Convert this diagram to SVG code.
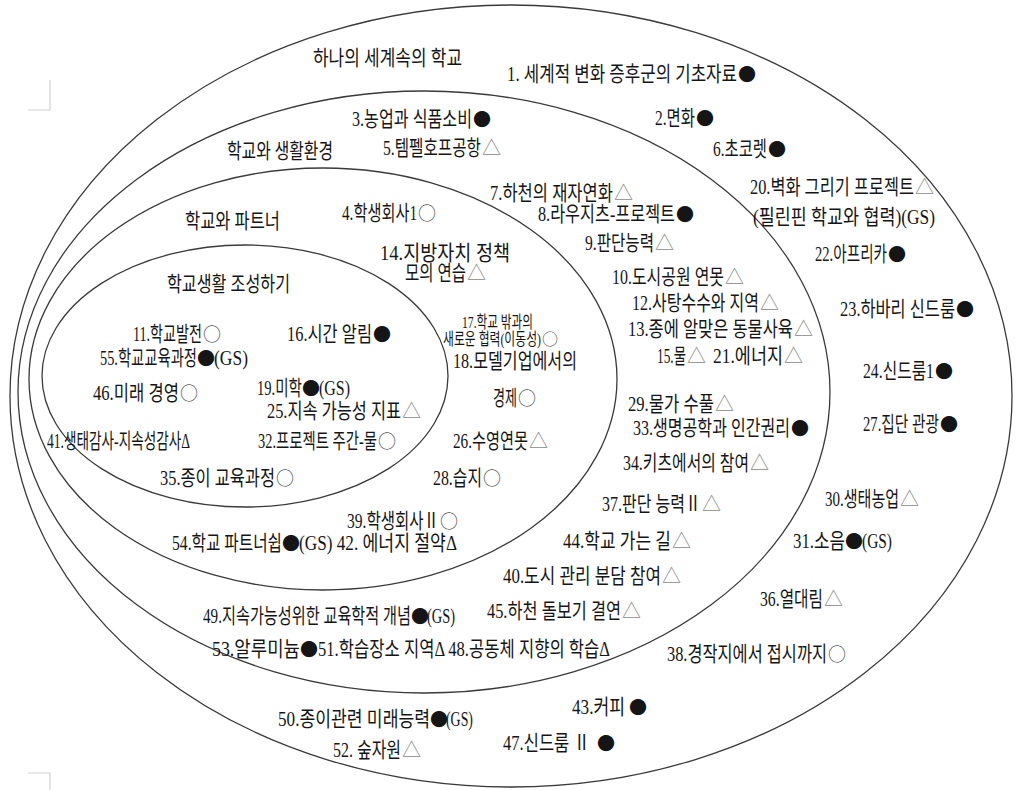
<svg xmlns="http://www.w3.org/2000/svg" width="1017" height="790" viewBox="0 0 1017 790">
<style>
.ring{fill:none;stroke:#3a3a3a;stroke-width:1.3}
.mark{fill:none;stroke:#d0d0d0;stroke-width:1.2}
text{font-family:"Liberation Serif","Noto Sans CJK KR",serif;font-size:21px;fill:#151515}
.s{font-size:17px}
text.st{fill:#8a8a8a;font-family:"Noto Sans CJK KR",sans-serif;font-size:19px}
text.sb{font-family:"Noto Sans CJK KR",sans-serif;font-size:18px}
text.so{font-family:"Noto Sans CJK KR",sans-serif;font-size:18px;fill:#555}
text.so.small{font-size:16px}
</style>
<rect width="1017" height="790" fill="#fff"/>
<g id="corner-marks">
<path class="mark" d="M50 80 V110 H28"/>
<path class="mark" d="M28 773 H50 V790"/>
</g>
<g id="regions">
<g id="ring-world"><ellipse class="ring" cx="511" cy="396" rx="501" ry="391"/></g>
<g id="ring-environment"><ellipse class="ring" cx="424" cy="392" rx="406" ry="301"/></g>
<g id="ring-partner"><ellipse class="ring" cx="323" cy="379" rx="294" ry="211"/></g>
<g id="ring-schoollife"><ellipse class="ring" cx="245" cy="376" rx="203" ry="131"/></g>
</g>
<g id="labels">
<g id="title-world"><text x="313" y="65" textLength="149" lengthAdjust="spacingAndGlyphs">하나의 세계속의 학교</text></g>
<g id="title-environment"><text x="227" y="158" textLength="106" lengthAdjust="spacingAndGlyphs">학교와 생활환경</text></g>
<g id="title-partner"><text x="185" y="228" textLength="95" lengthAdjust="spacingAndGlyphs">학교와 파트너</text></g>
<g id="title-schoollife"><text x="167" y="291" textLength="123" lengthAdjust="spacingAndGlyphs">학교생활 조성하기</text></g>
</g>
<g id="items">
<g id="i1"><text x="507" y="81" textLength="230" lengthAdjust="spacingAndGlyphs">1. 세계적 변화 증후군의 기초자료</text><text class="sb" x="738" y="81">●</text></g>
<g id="i3"><text x="352" y="126" textLength="120" lengthAdjust="spacingAndGlyphs">3.농업과 식품소비</text><text class="sb" x="473" y="126">●</text></g>
<g id="i5"><text x="383" y="155" textLength="98" lengthAdjust="spacingAndGlyphs">5.템펠호프공항</text><text class="st" x="482" y="155">△</text></g>
<g id="i2"><text x="655" y="125" textLength="40" lengthAdjust="spacingAndGlyphs">2.면화</text><text class="sb" x="696" y="125">●</text></g>
<g id="i6"><text x="713" y="156" textLength="54" lengthAdjust="spacingAndGlyphs">6.초코렛</text><text class="sb" x="768" y="156">●</text></g>
<g id="i7"><text x="490" y="200" textLength="123" lengthAdjust="spacingAndGlyphs">7.하천의 재자연화</text><text class="st" x="614" y="200">△</text></g>
<g id="i20"><text x="750" y="194" textLength="164" lengthAdjust="spacingAndGlyphs">20.벽화 그리기 프로젝트</text><text class="st" x="915" y="194">△</text>
<text x="753" y="224" textLength="182" lengthAdjust="spacingAndGlyphs">(필린핀 학교와 협력)(GS)</text></g>
<g id="i8"><text x="538" y="221" textLength="137" lengthAdjust="spacingAndGlyphs">8.라우지츠-프로젝트</text><text class="sb" x="676" y="221">●</text></g>
<g id="i4"><text x="342" y="220" textLength="75" lengthAdjust="spacingAndGlyphs">4.학생회사1</text><text class="so" x="418" y="220">○</text></g>
<g id="i9"><text x="585" y="250" textLength="69" lengthAdjust="spacingAndGlyphs">9.판단능력</text><text class="st" x="655" y="250">△</text></g>
<g id="i14"><text x="380" y="260" textLength="130" lengthAdjust="spacingAndGlyphs">14.지방자치 정책</text>
<text x="405" y="280" textLength="61" lengthAdjust="spacingAndGlyphs">모의 연습</text><text class="st" x="467" y="280">△</text></g>
<g id="i22"><text x="815" y="261" textLength="72" lengthAdjust="spacingAndGlyphs">22.아프리카</text><text class="sb" x="888" y="261">●</text></g>
<g id="i10"><text x="612" y="284" textLength="112" lengthAdjust="spacingAndGlyphs">10.도시공원 연못</text><text class="st" x="725" y="284">△</text></g>
<g id="i12"><text x="632" y="310" textLength="127" lengthAdjust="spacingAndGlyphs">12.사탕수수와 지역</text><text class="st" x="760" y="310">△</text></g>
<g id="i23"><text x="840" y="316" textLength="115" lengthAdjust="spacingAndGlyphs">23.하바리 신드룸</text><text class="sb" x="956" y="316">●</text></g>
<g id="i17"><text class="s" x="462" y="328" textLength="71" lengthAdjust="spacingAndGlyphs">17.학교 밖과의</text>
<text class="s" x="443" y="345" textLength="98" lengthAdjust="spacingAndGlyphs">새로운 협력(이동성)</text><text class="so small" x="542" y="345">○</text></g>
<g id="i13"><text x="628" y="336" textLength="165" lengthAdjust="spacingAndGlyphs">13.종에 알맞은 동물사육</text><text class="st" x="794" y="336">△</text></g>
<g id="i11"><text x="133" y="341" textLength="69" lengthAdjust="spacingAndGlyphs">11.학교발전</text><text class="so" x="203" y="341">○</text></g>
<g id="i16"><text x="287" y="341" textLength="85" lengthAdjust="spacingAndGlyphs">16.시간 알림</text><text class="sb" x="373" y="341">●</text></g>
<g id="i55"><text x="100" y="365" textLength="97" lengthAdjust="spacingAndGlyphs">55.학교교육과정</text><text class="sb" x="197" y="365">●</text><text x="214" y="365" textLength="34" lengthAdjust="spacingAndGlyphs">(GS)</text></g>
<g id="i15"><text x="657" y="363" textLength="29" lengthAdjust="spacingAndGlyphs">15.물</text><text class="st" x="687" y="363">△</text></g>
<g id="i21"><text x="713" y="363" textLength="70" lengthAdjust="spacingAndGlyphs">21.에너지</text><text class="st" x="784" y="363">△</text></g>
<g id="i18"><text x="453" y="368" textLength="124" lengthAdjust="spacingAndGlyphs">18.모델기업에서의</text>
<text x="493" y="405" textLength="24" lengthAdjust="spacingAndGlyphs">경제</text><text class="so" x="518" y="405">○</text></g>
<g id="i19"><text x="257" y="395" textLength="45" lengthAdjust="spacingAndGlyphs">19.미학</text><text class="sb" x="302" y="395">●</text><text x="319" y="395" textLength="31" lengthAdjust="spacingAndGlyphs">(GS)</text></g>
<g id="i46"><text x="93" y="400" textLength="86" lengthAdjust="spacingAndGlyphs">46.미래 경영</text><text class="so" x="180" y="400">○</text></g>
<g id="i24"><text x="863" y="378" textLength="71" lengthAdjust="spacingAndGlyphs">24.신드룸1</text><text class="sb" x="935" y="378">●</text></g>
<g id="i29"><text x="628" y="411" textLength="86" lengthAdjust="spacingAndGlyphs">29.물가 수풀</text><text class="st" x="715" y="411">△</text></g>
<g id="i25"><text x="267" y="418" textLength="134" lengthAdjust="spacingAndGlyphs">25.지속 가능성 지표</text><text class="st" x="402" y="418">△</text></g>
<g id="i33"><text x="633" y="435" textLength="157" lengthAdjust="spacingAndGlyphs">33.생명공학과 인간권리</text><text class="sb" x="791" y="435">●</text></g>
<g id="i27"><text x="863" y="431" textLength="76" lengthAdjust="spacingAndGlyphs">27.집단 관광</text><text class="sb" x="940" y="431">●</text></g>
<g id="i41"><text x="47" y="448" textLength="143" lengthAdjust="spacingAndGlyphs">41.생태감사-지속성감사Δ</text></g>
<g id="i32"><text x="258" y="448" textLength="119" lengthAdjust="spacingAndGlyphs">32.프로젝트 주간-물</text><text class="so" x="378" y="448">○</text></g>
<g id="i26"><text x="453" y="448" textLength="75" lengthAdjust="spacingAndGlyphs">26.수영연못</text><text class="st" x="529" y="448">△</text></g>
<g id="i34"><text x="623" y="470" textLength="126" lengthAdjust="spacingAndGlyphs">34.키츠에서의 참여</text><text class="st" x="750" y="470">△</text></g>
<g id="i35"><text x="160" y="485" textLength="115" lengthAdjust="spacingAndGlyphs">35.종이 교육과정</text><text class="so" x="276" y="485">○</text></g>
<g id="i28"><text x="433" y="485" textLength="49" lengthAdjust="spacingAndGlyphs">28.습지</text><text class="so" x="483" y="485">○</text></g>
<g id="i30"><text x="825" y="506" textLength="74" lengthAdjust="spacingAndGlyphs">30.생태농업</text><text class="st" x="900" y="506">△</text></g>
<g id="i37"><text x="602" y="511" textLength="99" lengthAdjust="spacingAndGlyphs">37.판단 능력Ⅱ</text><text class="st" x="702" y="511">△</text></g>
<g id="i39"><text x="347" y="528" textLength="92" lengthAdjust="spacingAndGlyphs">39.학생회사Ⅱ</text><text class="so" x="440" y="528">○</text></g>
<g id="i54-42"><text x="172" y="550" textLength="110" lengthAdjust="spacingAndGlyphs">54.학교 파트너쉽</text><text class="sb" x="282" y="550">●</text><text x="299" y="550" textLength="158" lengthAdjust="spacingAndGlyphs">(GS) 42. 에너지 절약Δ</text></g>
<g id="i44"><text x="563" y="548" textLength="108" lengthAdjust="spacingAndGlyphs">44.학교 가는 길</text><text class="st" x="672" y="548">△</text></g>
<g id="i31"><text x="793" y="548" textLength="52" lengthAdjust="spacingAndGlyphs">31.소음</text><text class="sb" x="845" y="548">●</text><text x="862" y="548" textLength="30" lengthAdjust="spacingAndGlyphs">(GS)</text></g>
<g id="i40"><text x="503" y="583" textLength="158" lengthAdjust="spacingAndGlyphs">40.도시 관리 분담 참여</text><text class="st" x="662" y="583">△</text></g>
<g id="i36"><text x="760" y="606" textLength="63" lengthAdjust="spacingAndGlyphs">36.열대림</text><text class="st" x="824" y="606">△</text></g>
<g id="i49"><text x="203" y="623" textLength="208" lengthAdjust="spacingAndGlyphs">49.지속가능성위한 교육학적 개념</text><text class="sb" x="411" y="623">●</text><text x="427" y="623" textLength="28" lengthAdjust="spacingAndGlyphs">(GS)</text></g>
<g id="i45"><text x="487" y="618" textLength="134" lengthAdjust="spacingAndGlyphs">45.하천 돌보기 결연</text><text class="st" x="622" y="618">△</text></g>
<g id="i53-51-48"><text x="212" y="656" textLength="88" lengthAdjust="spacingAndGlyphs">53.알루미늄</text><text class="sb" x="300" y="656">●</text><text x="318" y="656" textLength="292" lengthAdjust="spacingAndGlyphs">51.학습장소 지역Δ 48.공동체 지향의 학습Δ</text></g>
<g id="i38"><text x="667" y="661" textLength="160" lengthAdjust="spacingAndGlyphs">38.경작지에서 접시까지</text><text class="so" x="828" y="661">○</text></g>
<g id="i50"><text x="278" y="726" textLength="152" lengthAdjust="spacingAndGlyphs">50.종이관련 미래능력</text><text class="sb" x="430" y="726">●</text><text x="446" y="726" textLength="27" lengthAdjust="spacingAndGlyphs">(GS)</text></g>
<g id="i43"><text x="572" y="714" textLength="53" lengthAdjust="spacingAndGlyphs">43.커피</text><text class="sb" x="629" y="714">●</text></g>
<g id="i47"><text x="503" y="750" textLength="87" lengthAdjust="spacingAndGlyphs">47.신드룸 Ⅱ</text><text class="sb" x="597" y="750">●</text></g>
<g id="i52"><text x="333" y="757" textLength="68" lengthAdjust="spacingAndGlyphs">52. 숲자원</text><text class="st" x="402" y="757">△</text></g>
</g>
</svg>
